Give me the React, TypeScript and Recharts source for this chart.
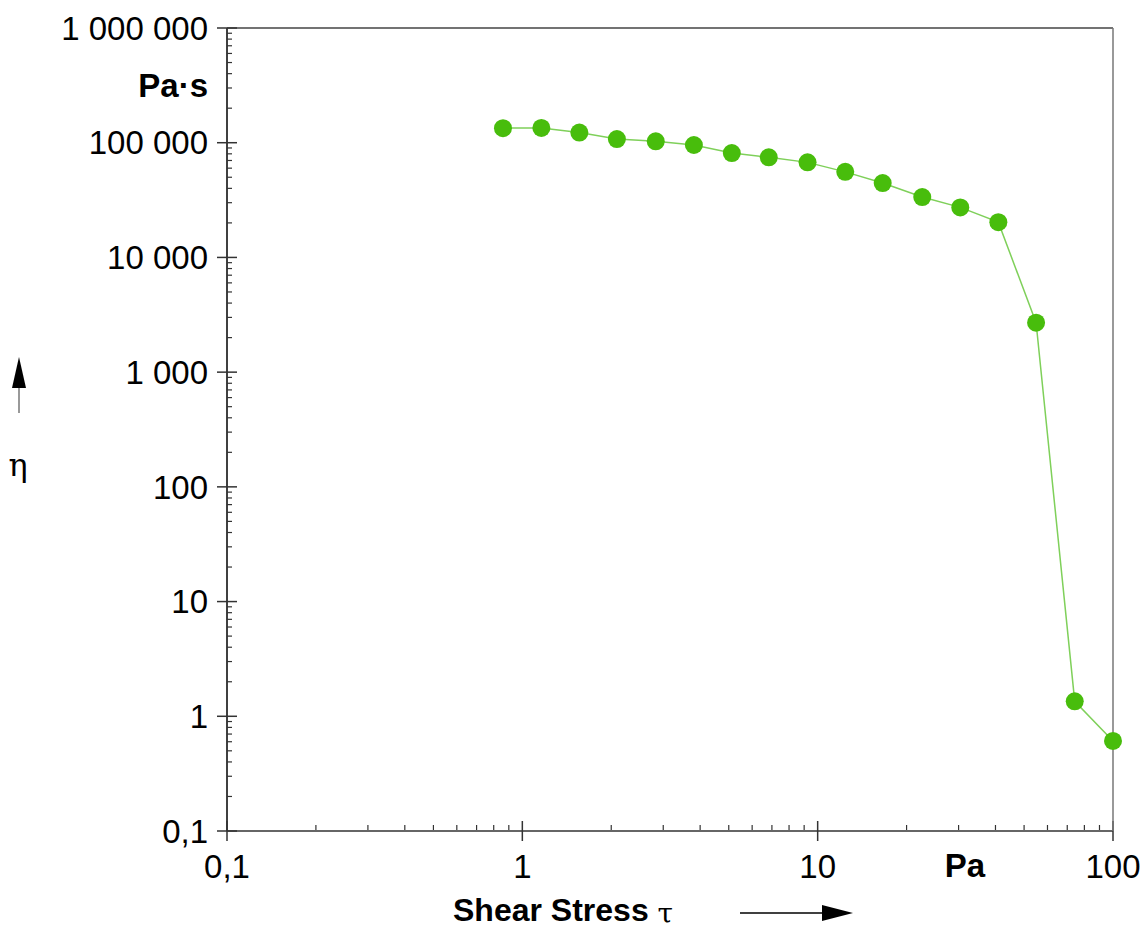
import React from "react";
import { LineChart, Line, XAxis, YAxis, Customized } from "recharts";

// flow curve: viscosity vs shear stress (log/log)
const shearStress = [0.86, 1.16, 1.56, 2.09, 2.83, 3.81, 5.12, 6.83, 9.24, 12.4, 16.6, 22.6, 30.4, 40.9, 54.9, 74.2, 100];
const viscosity = [134000, 134500, 122500, 107700, 102900, 95500, 81300, 74600, 67400, 55700, 44500, 33600, 27300, 20300, 2700, 1.35, 0.61];

const xMajorTicks = [0.1, 1, 10, 100];
const yMajorTicks = [0.1, 1, 10, 100, 1000, 10000, 100000, 1000000];
const minorSteps = [2, 3, 4, 5, 6, 7, 8, 9];

const xMinorTicks = [0.1, 1, 10].flatMap((d) => minorSteps.map((m) => +(d * m).toPrecision(3)));
const yMinorTicks = [0.1, 1, 10, 100, 1000, 10000, 100000].flatMap((d) => minorSteps.map((m) => +(d * m).toPrecision(3)));
const yAllTicks = [...yMajorTicks, ...yMinorTicks].sort((a, b) => a - b);

const data = shearStress.map((tau, i) => ({ tau, eta: viscosity[i] }));

const fmt = (v: number) => {
	if (v < 1) return String(v).replace(".", ",");
	return String(Math.round(v)).replace(/\B(?=(\d{3})+(?!\d))/g, " ");
};

const FONT = "'Liberation Sans', Arial, sans-serif";
const tickStyle = { fill: "#000", fontSize: 33, fontFamily: FONT };
const AXIS = "#333";

// tick={false} drops the tick lines too, so draw an empty label instead
const noLabel = () => <g />;

// y ticks: majors cross the axis and get a label, minors point inward only
const YTick = (props: any) => {
	const { x, y, payload } = props;
	const v = payload.value;
	const major = yMajorTicks.includes(v);
	if (!major) {
		return <line x1={x} x2={x + 5} y1={y} y2={y} stroke={AXIS} strokeWidth={1.2} />;
	}
	return (
		<g>
			<line x1={x - 10} x2={x + 10} y1={y} y2={y} stroke={AXIS} strokeWidth={1.5} />
			<text x={x - 19} y={y} dy="0.355em" textAnchor="end" fontSize={33} fontFamily={FONT} fill="#000">
				{fmt(v)}
			</text>
		</g>
	);
};

const Annotations = () => (
	<g fontFamily={FONT} fill="#000">
		<text x={208} y={97} fontSize={33} fontWeight="bold" textAnchor="end">Pa·s</text>
		<text x={965} y={877} fontSize={33} fontWeight="bold" textAnchor="middle">Pa</text>
		<text x={453} y={921} fontSize={32} fontWeight="bold">
			Shear Stress <tspan fontFamily="'DejaVu Serif', serif" fontSize={28} fontWeight="normal" dy={2}>τ</tspan>
		</text>
		{/* x arrow */}
		<line x1={740} y1={913} x2={824} y2={913} stroke="#000" strokeWidth={1.5} />
		<polygon points="822,905 853,913 822,921" fill="#000" />
		{/* y arrow */}
		<line x1={19} y1={413} x2={19} y2={386} stroke="#777" strokeWidth={1.5} />
		<polygon points="12,388 19,357 26,388" fill="#000" />
		<text x={18} y={476} fontSize={32} textAnchor="middle" fontFamily="'DejaVu Serif', serif">η</text>
	</g>
);

export default function App() {
	return (
		<div style={{ position: "absolute", left: 0, top: 0, background: "#fff" }}>
			<LineChart width={1143} height={929} data={data} margin={{ top: 27, right: 29, bottom: 0, left: 0 }}>
				{/* main axes with outside ticks + labels */}
				<XAxis
					xAxisId="main"
					dataKey="tau"
					type="number"
					scale="log"
					domain={[0.1, 100]}
					ticks={xMajorTicks}
					interval={0}
					tickFormatter={fmt}
					tick={tickStyle}
					tickSize={10}
					tickMargin={14}
					height={98}
					axisLine={{ stroke: AXIS, strokeWidth: 1.5 }}
					tickLine={{ stroke: AXIS, strokeWidth: 1.5 }}
				/>
				<YAxis
					yAxisId="main"
					type="number"
					scale="log"
					domain={[0.1, 1000000]}
					ticks={yAllTicks}
					interval={0}
					tick={YTick}
					tickSize={0}
					tickMargin={0}
					tickLine={false}
					width={227}
					axisLine={{ stroke: "#000", strokeWidth: 1.5 }}
				/>
				{/* inside x ticks */}
				<XAxis xAxisId="majIn" dataKey="tau" type="number" scale="log" domain={[0.1, 100]} ticks={xMajorTicks} interval={0} mirror height={1} tick={noLabel} tickSize={10} axisLine={false} tickLine={{ stroke: AXIS, strokeWidth: 1.5 }} />
				<XAxis xAxisId="minor" dataKey="tau" type="number" scale="log" domain={[0.1, 100]} ticks={xMinorTicks} interval={0} mirror height={1} tick={noLabel} tickSize={5} axisLine={false} tickLine={{ stroke: AXIS, strokeWidth: 1.2 }} />
				{/* frame top / right */}
				<XAxis xAxisId="top" orientation="top" dataKey="tau" type="number" scale="log" domain={[0.1, 100]} height={1} tick={false} tickLine={false} axisLine={{ stroke: "#444", strokeWidth: 1.5 }} />
				<YAxis yAxisId="right" orientation="right" type="number" scale="log" domain={[0.1, 1000000]} width={1} tick={false} tickLine={false} axisLine={{ stroke: "#777", strokeWidth: 1.5 }} />
				<Line
					xAxisId="main"
					yAxisId="main"
					dataKey="eta"
					stroke="#7fd05a"
					strokeWidth={1.5}
					dot={{ r: 9, fill: "#48bd0c", stroke: "none" }}
					isAnimationActive={false}
				/>
				<Customized component={Annotations} />
			</LineChart>
		</div>
	);
}
